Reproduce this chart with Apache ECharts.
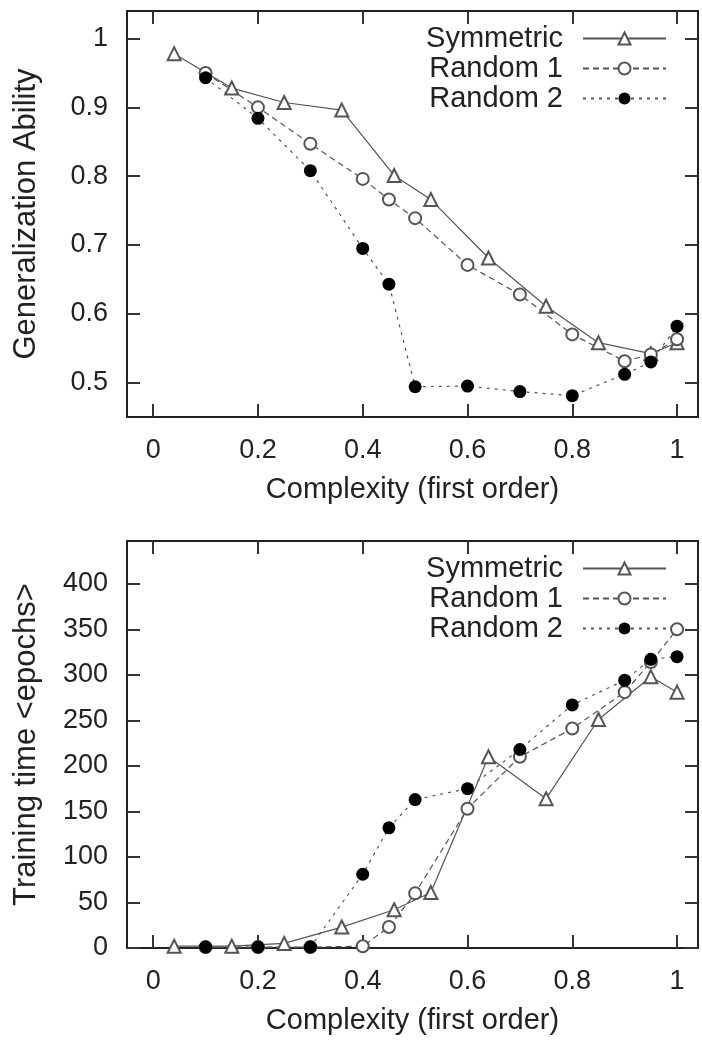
<!DOCTYPE html>
<html>
<head>
<meta charset="utf-8">
<script src="https://cdn.jsdelivr.net/npm/echarts@6/dist/echarts.min.js"></script>
<style>
  html, body { margin: 0; padding: 0; background: #fff; }
  #box { width: 702px; height: 1041px; }
</style>
</head>
<body>
<div id="box"></div>
<script>
// complexity values (x) for each network type
const symX = [0.04, 0.15, 0.25, 0.36, 0.46, 0.53, 0.64, 0.75, 0.85, 0.95, 1.0];
const rndX = [0.1, 0.2, 0.3, 0.4, 0.45, 0.5, 0.6, 0.7, 0.8, 0.9, 0.95, 1.0];

// top panel: generalization ability
const symGen = [0.978, 0.928, 0.907, 0.896, 0.801, 0.766, 0.681, 0.611, 0.558, 0.542, 0.558];
const r1Gen = [0.95, 0.90, 0.847, 0.796, 0.766, 0.739, 0.671, 0.628, 0.57, 0.531, 0.541, 0.563];
const r2Gen = [0.943, 0.884, 0.808, 0.695, 0.643, 0.494, 0.495, 0.487, 0.481, 0.512, 0.530, 0.582];

// bottom panel: training time in epochs
const symTime = [2, 2, 5, 23, 42, 61, 210, 164, 251, 298, 281];
const r1Time = [1, 1, 1, 2, 23, 60, 153, 210, 241, 281, 314, 350];
const r2Time = [1, 1, 1, 81, 132, 163, 175, 218, 267, 294, 317, 320];

const xTicks = [0, 0.2, 0.4, 0.6, 0.8, 1];
const genTicks = [0.5, 0.6, 0.7, 0.8, 0.9, 1];
const timeTicks = [0, 50, 100, 150, 200, 250, 300, 350, 400];

const names = ["Symmetric", "Random 1", "Random 2"];
const FONT = "Liberation Sans";

function pairs(xs, ys) {
  return xs.map((x, i) => [x, ys[i]]);
}

const frame = { show: true, onZero: false, lineStyle: { color: "#222", width: 2 } };

function xAx(grid, pos, show) {
  return {
    type: "value", gridIndex: grid, position: pos,
    min: -0.05, max: 1.04,
    axisLine: frame,
    axisTick: { show: true, inside: true, length: 13, customValues: xTicks, lineStyle: { color: "#333", width: 2 } },
    axisLabel: {
      show: show, customValues: xTicks, margin: 20,
      fontFamily: FONT, fontSize: 27, color: "#222",
      formatter: (v) => String(v)
    },
    splitLine: { show: false },
    name: show ? "Complexity (first order)" : "",
    nameLocation: "middle", nameGap: 58,
    nameTextStyle: { fontFamily: FONT, fontSize: 29, color: "#222" }
  };
}

function yAx(grid, pos, show, min, max, ticks, title) {
  return {
    type: "value", gridIndex: grid, position: pos,
    min: min, max: max,
    axisLine: frame,
    axisTick: { show: true, inside: true, length: 13, customValues: ticks, lineStyle: { color: "#333", width: 2 } },
    axisLabel: {
      show: show, customValues: ticks, margin: 19,
      fontFamily: FONT, fontSize: 27, color: "#222",
      formatter: (v) => String(v)
    },
    splitLine: { show: false },
    name: show ? title : "",
    nameLocation: "middle", nameGap: 85,
    nameTextStyle: { fontFamily: FONT, fontSize: 31, color: "#222" }
  };
}

function lineSeries(name, data, xi, yi, symbol, size, dash) {
  return {
    name: name, type: "line", data: data,
    xAxisIndex: xi, yAxisIndex: yi,
    symbol: symbol, symbolSize: size,
    lineStyle: { color: "#555", width: 1.2, type: dash },
    itemStyle: { color: symbol === "circle" ? "#000" : "#555", borderWidth: 1.2 },
    emphasis: { disabled: true },
    animation: false
  };
}

function legend(top) {
  return {
    data: names, orient: "vertical", align: "right",
    right: 35, top: top, padding: 0,
    itemWidth: 83, itemHeight: 15, itemGap: 1,
    textStyle: { fontFamily: FONT, fontSize: 29, color: "#222", padding: [0, 15, 0, 0] }
  };
}

var myChart = echarts.init(document.getElementById("box"));
let option = {
  backgroundColor: "#fff",
  animation: false,
  grid: [
    { left: 127, top: 11, width: 571, height: 406 },
    { left: 127, top: 541, width: 571, height: 407 }
  ],
  xAxis: [xAx(0, "bottom", true), xAx(0, "top", false), xAx(1, "bottom", true), xAx(1, "top", false)],
  yAxis: [
    yAx(0, "left", true, 0.45, 1.04, genTicks, "Generalization Ability"),
    yAx(0, "right", false, 0.45, 1.04, genTicks, ""),
    yAx(1, "left", true, 0, 447, timeTicks, "Training time <epochs>"),
    yAx(1, "right", false, 0, 447, timeTicks, "")
  ],
  legend: [legend(24), legend(554)],
  series: [
    lineSeries(names[0], pairs(symX, symGen), 0, 0, "emptyTriangle", 13, "solid"),
    lineSeries(names[1], pairs(rndX, r1Gen), 0, 0, "emptyCircle", 12, [6, 4]),
    lineSeries(names[2], pairs(rndX, r2Gen), 0, 0, "circle", 13, [3, 5]),
    lineSeries(names[0], pairs(symX, symTime), 2, 2, "emptyTriangle", 13, "solid"),
    lineSeries(names[1], pairs(rndX, r1Time), 2, 2, "emptyCircle", 12, [6, 4]),
    lineSeries(names[2], pairs(rndX, r2Time), 2, 2, "circle", 13, [3, 5])
  ]
};
myChart.setOption(option);
</script>
</body>
</html>
